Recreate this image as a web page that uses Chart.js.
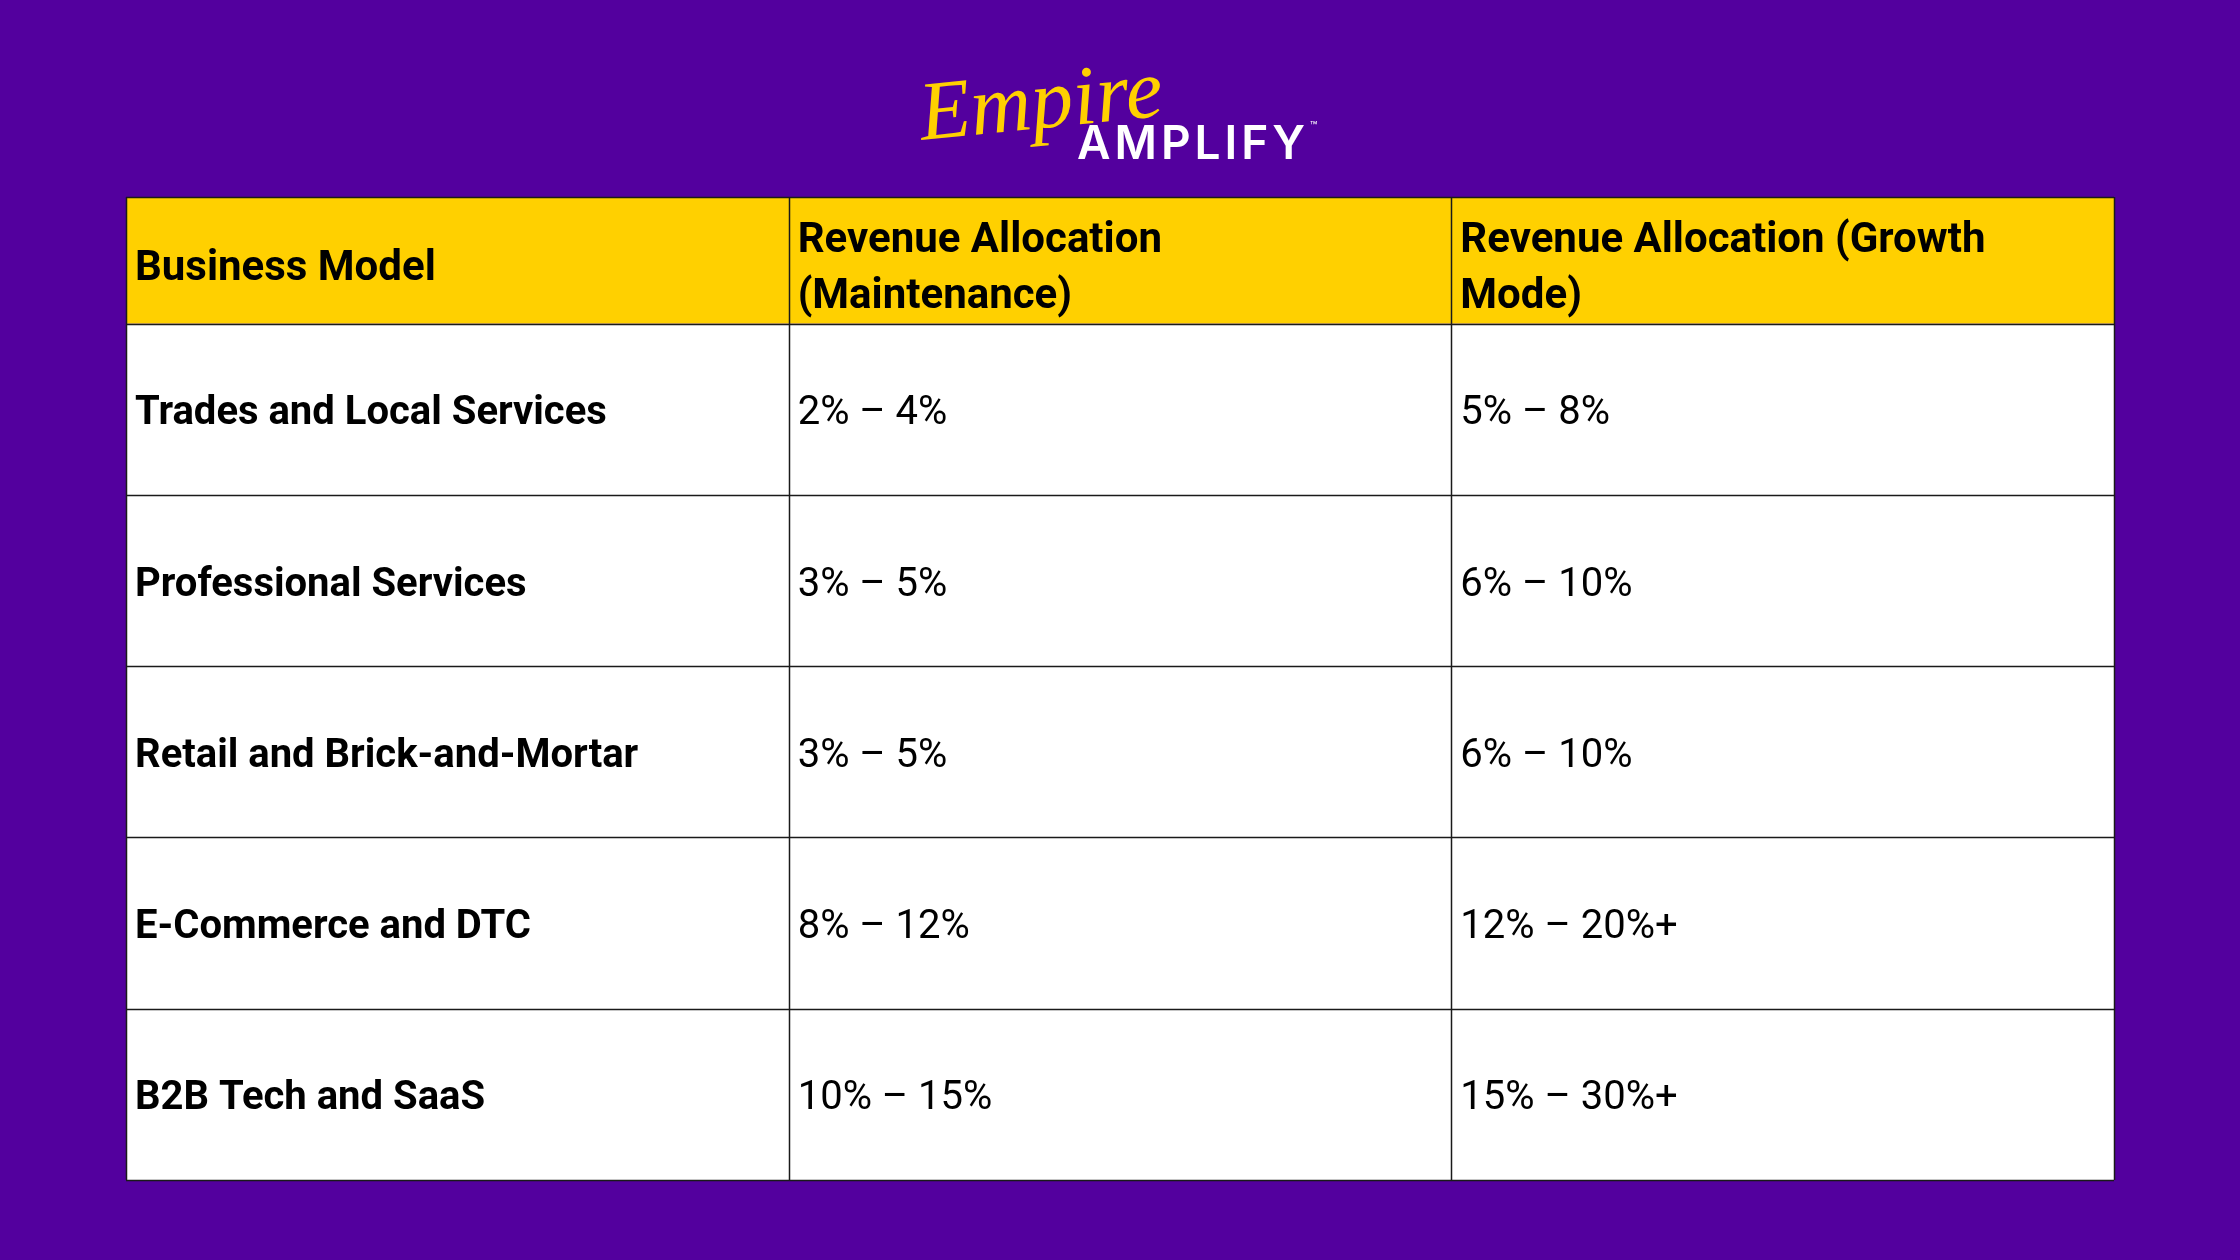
<!DOCTYPE html>
<html>
    <head>
        <meta charset="UTF-8" />
        <title>Revenue Allocation by Business Model</title>
        <style type="text/css">
            html, body {
                margin: 0;
                padding: 0;
                background: #53009e;
            }
            .chartBox {
                width: 2240px;
                height: 1260px;
            }
        </style>
    </head>
    <body>
        <div class="chartBox">
            <canvas id="myChart" width="2240" height="1260"></canvas>
        </div>

        <script src="https://cdn.jsdelivr.net/npm/chart.js"></script>
        <script>
            // table content
            const headers = [
                ['Business Model'],
                ['Revenue Allocation', '(Maintenance)'],
                ['Revenue Allocation (Growth', 'Mode)']
            ];
            const models = [
                'Trades and Local Services',
                'Professional Services',
                'Retail and Brick-and-Mortar',
                'E-Commerce and DTC',
                'B2B Tech and SaaS'
            ];
            const maintenance = ['2% \u2013 4%', '3% \u2013 5%', '3% \u2013 5%', '8% \u2013 12%', '10% \u2013 15%'];
            const growth = ['5% \u2013 8%', '6% \u2013 10%', '6% \u2013 10%', '12% \u2013 20%+', '15% \u2013 30%+'];

            const purple = '#53009e';
            const yellow = '#ffd000';

            // draws the logo, header and grid of cells from the x / y scales
            const tablePlugin = {
                id: 'table',
                beforeDraw(chart) {
                    const ctx = chart.ctx;
                    ctx.save();
                    ctx.fillStyle = purple;
                    ctx.fillRect(0, 0, chart.width, chart.height);
                    ctx.restore();
                },
                afterDraw(chart) {
                    const ctx = chart.ctx;
                    const x = chart.scales.x;
                    const y = chart.scales.y;
                    const cols = [models, maintenance, growth];
                    const headTop = y.getPixelForValue(y.min);
                    const headBottom = y.getPixelForValue(0);
                    const left = x.getPixelForValue(0);
                    const right = x.getPixelForValue(3);
                    const bottom = y.getPixelForValue(models.length);
                    ctx.save();

                    // header row + body
                    ctx.fillStyle = yellow;
                    ctx.fillRect(left, headTop, right - left, headBottom - headTop);
                    ctx.fillStyle = '#ffffff';
                    ctx.fillRect(left, headBottom, right - left, bottom - headBottom);

                    // grid lines
                    ctx.strokeStyle = '#1a1a1a';
                    ctx.lineWidth = 1.5;
                    ctx.beginPath();
                    for (let c = 0; c <= 3; c++) {
                        const px = Math.round(x.getPixelForValue(c)) + 0.5;
                        ctx.moveTo(px, headTop);
                        ctx.lineTo(px, bottom);
                    }
                    ctx.moveTo(left, Math.round(headTop) + 0.5);
                    ctx.lineTo(right, Math.round(headTop) + 0.5);
                    for (let r = 0; r <= models.length; r++) {
                        const py = Math.round(y.getPixelForValue(r)) + 0.5;
                        ctx.moveTo(left, py);
                        ctx.lineTo(right, py);
                    }
                    ctx.stroke();

                    // header text
                    ctx.fillStyle = '#000000';
                    ctx.textBaseline = 'middle';
                    ctx.font = 'bold 42px Roboto';
                    const lineH = 56;
                    for (let c = 0; c < headers.length; c++) {
                        const lines = headers[c];
                        const mid = (headTop + headBottom) / 2 + 9;
                        const start = mid - (lines.length - 1) * lineH / 2;
                        for (let l = 0; l < lines.length; l++) {
                            ctx.fillText(lines[l], x.getPixelForValue(c) + 9, start + l * lineH);
                        }
                    }

                    // body text
                    for (let c = 0; c < cols.length; c++) {
                        ctx.font = (c === 0 ? 'bold ' : '') + '40px Roboto';
                        for (let r = 0; r < cols[c].length; r++) {
                            const py = (y.getPixelForValue(r) + y.getPixelForValue(r + 1)) / 2 + 5;
                            ctx.fillText(cols[c][r], x.getPixelForValue(c) + 9, py);
                        }
                    }

                    // logo
                    ctx.textBaseline = 'alphabetic';
                    ctx.fillStyle = yellow;
                    ctx.font = 'italic 84px "Liberation Serif"';
                    ctx.save();
                    ctx.translate(922, 140);
                    ctx.rotate(-0.1);
                    ctx.fillText('Empire', 0, 0);
                    ctx.restore();
                    ctx.fillStyle = '#ffffff';
                    ctx.font = '600 46px Inter';
                    ctx.letterSpacing = '4px';
                    ctx.fillText('AMPLIFY', 1077, 159);
                    ctx.letterSpacing = '0px';
                    ctx.font = '12px Inter';
                    ctx.fillText('\u2122', 1310, 130);
                    ctx.restore();
                }
            };

            const config = {
                type: 'scatter',
                data: {
                    datasets: []
                },
                options: {
                    responsive: false,
                    animation: false,
                    layout: {
                        padding: { left: 126, right: 126, top: 197, bottom: 80 }
                    },
                    plugins: {
                        legend: { display: false },
                        tooltip: { enabled: false }
                    },
                    scales: {
                        x: { type: 'linear', min: 0, max: 3, display: false },
                        y: { type: 'linear', min: -0.74, max: 5, reverse: true, display: false }
                    }
                },
                plugins: [tablePlugin]
            };

            const myChart = new Chart(document.getElementById('myChart'), config);
        </script>
    </body>
</html>
